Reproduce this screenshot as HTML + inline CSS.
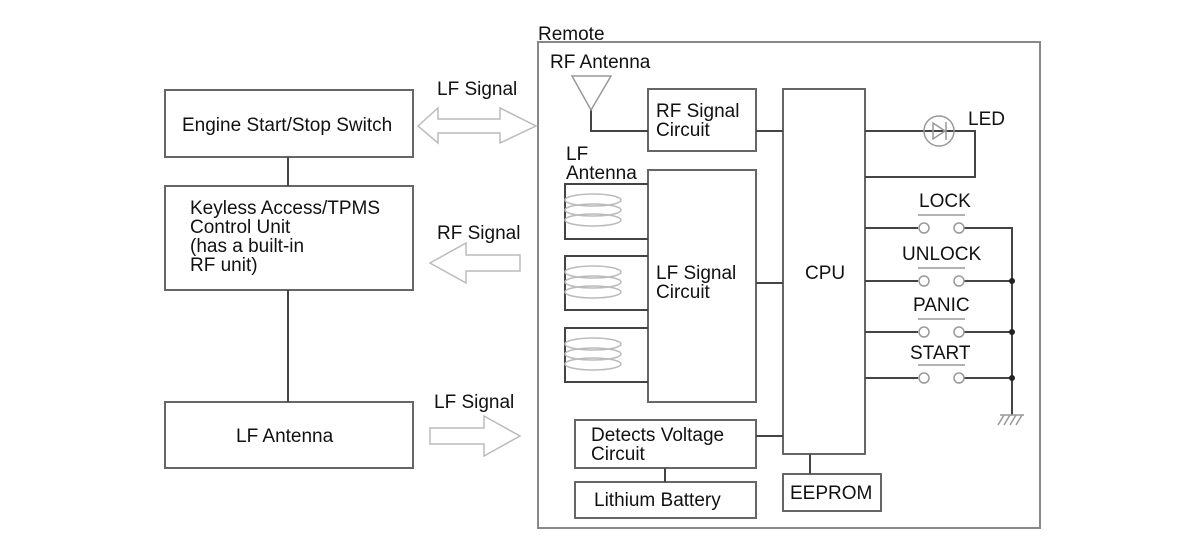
<!DOCTYPE html>
<html><head><meta charset="utf-8"><style>
html,body{margin:0;padding:0;background:#fff;}
svg{display:block;}
text{font-family:"Liberation Sans",Arial,sans-serif;font-size:19px;fill:#111;}
</style></head><body>
<svg width="1200" height="552" viewBox="0 0 1200 552" xmlns="http://www.w3.org/2000/svg">
<g fill="none" stroke="#666" stroke-width="2">
<rect x="165" y="90" width="248" height="67"/>
<rect x="165" y="186" width="248" height="104"/>
<rect x="165" y="402" width="248" height="66"/>
<line x1="288" y1="157" x2="288" y2="186" stroke="#444"/>
<line x1="288" y1="290" x2="288" y2="402" stroke="#444"/>
<rect x="538" y="42" width="502" height="486" stroke="#888"/>
<rect x="648" y="89" width="108" height="62"/>
<rect x="648" y="170" width="108" height="232"/>
<rect x="783" y="89" width="82" height="365"/>
<rect x="575" y="420" width="181" height="48"/>
<rect x="575" y="482" width="181" height="36"/>
<rect x="783" y="474" width="98" height="37"/>
</g>
<g fill="none" stroke="#444" stroke-width="2">
<polyline points="591,110 591,131 648,131"/>
<line x1="756" y1="131" x2="783" y2="131"/>
<line x1="756" y1="283" x2="783" y2="283"/>
<line x1="756" y1="436" x2="783" y2="436"/>
<line x1="665" y1="468" x2="665" y2="482"/>
<line x1="810" y1="454" x2="810" y2="474"/>
<polyline points="648,184 565,184 565,239 648,239"/>
<polyline points="648,256 565,256 565,310 648,310"/>
<polyline points="648,328 565,328 565,382 648,382"/>
<polyline points="865,131 975,131 975,177 865,177"/>
<polyline points="865,228 918,228"/><polyline points="964,228 1012,228 1012,415"/>
<line x1="865" y1="281" x2="918" y2="281"/><line x1="964" y1="281" x2="1012" y2="281"/>
<line x1="865" y1="332" x2="918" y2="332"/><line x1="964" y1="332" x2="1012" y2="332"/>
<line x1="865" y1="378" x2="918" y2="378"/><line x1="964" y1="378" x2="1012" y2="378"/>
</g>
<g fill="#222"><circle cx="1012" cy="281" r="3"/><circle cx="1012" cy="332" r="3"/><circle cx="1012" cy="378" r="3"/></g>
<g fill="none" stroke="#999" stroke-width="1.5">
<polygon points="572,76 611,76 591,110"/>
<circle cx="939" cy="131" r="15"/>
<polygon points="933,123 933,139 945,131"/><line x1="946" y1="122" x2="946" y2="140"/>
<line x1="1000" y1="415" x2="1024" y2="415"/>
<line x1="1004" y1="415" x2="998" y2="425"/><line x1="1010" y1="415" x2="1004" y2="425"/><line x1="1016" y1="415" x2="1010" y2="425"/><line x1="1022" y1="415" x2="1016" y2="425"/>
<circle cx="924" cy="228" r="5"/><circle cx="959" cy="228" r="5"/>
<circle cx="924" cy="281" r="5"/><circle cx="959" cy="281" r="5"/>
<circle cx="924" cy="332" r="5"/><circle cx="959" cy="332" r="5"/>
<circle cx="924" cy="378" r="5"/><circle cx="959" cy="378" r="5"/>
<line x1="918" y1="215" x2="965" y2="215"/><line x1="918" y1="268" x2="965" y2="268"/>
<line x1="918" y1="319" x2="965" y2="319"/><line x1="918" y1="365" x2="965" y2="365"/>
</g>
<g fill="none" stroke="#bbb" stroke-width="1.5">
<ellipse cx="593" cy="200" rx="28" ry="6"/><ellipse cx="593" cy="210" rx="28" ry="6"/><ellipse cx="593" cy="220" rx="28" ry="6"/>
<ellipse cx="593" cy="272" rx="28" ry="6"/><ellipse cx="593" cy="282" rx="28" ry="6"/><ellipse cx="593" cy="292" rx="28" ry="6"/>
<ellipse cx="593" cy="344" rx="28" ry="6"/><ellipse cx="593" cy="354" rx="28" ry="6"/><ellipse cx="593" cy="364" rx="28" ry="6"/>
<polygon points="418,126 438,108 438,119 500,119 500,108 536,126 500,143 500,133 438,133 438,143"/>
<polygon points="430,263 466,243 466,255 520,255 520,271 466,271 466,283"/>
<polygon points="430,428 484,428 484,416 520,436 484,456 484,444 430,444"/>
</g>
<text x="182" y="131">Engine Start/Stop Switch</text>
<text x="190" y="214">Keyless Access/TPMS</text>
<text x="190" y="233">Control Unit</text>
<text x="190" y="252">(has a built-in</text>
<text x="190" y="271">RF unit)</text>
<text x="236" y="442">LF Antenna</text>
<text x="437" y="95">LF Signal</text>
<text x="437" y="239">RF Signal</text>
<text x="434" y="408">LF Signal</text>
<text x="538" y="40">Remote</text>
<text x="550" y="68">RF Antenna</text>
<text x="656" y="117">RF Signal</text>
<text x="656" y="136">Circuit</text>
<text x="566" y="160">LF</text>
<text x="566" y="179">Antenna</text>
<text x="656" y="279">LF Signal</text>
<text x="656" y="298">Circuit</text>
<text x="805" y="279">CPU</text>
<text x="968" y="125">LED</text>
<text x="919" y="207">LOCK</text>
<text x="902" y="260">UNLOCK</text>
<text x="913" y="311">PANIC</text>
<text x="910" y="359">START</text>
<text x="591" y="441">Detects Voltage</text>
<text x="591" y="460">Circuit</text>
<text x="594" y="506">Lithium Battery</text>
<text x="790" y="499">EEPROM</text>
</svg>
</body></html>
